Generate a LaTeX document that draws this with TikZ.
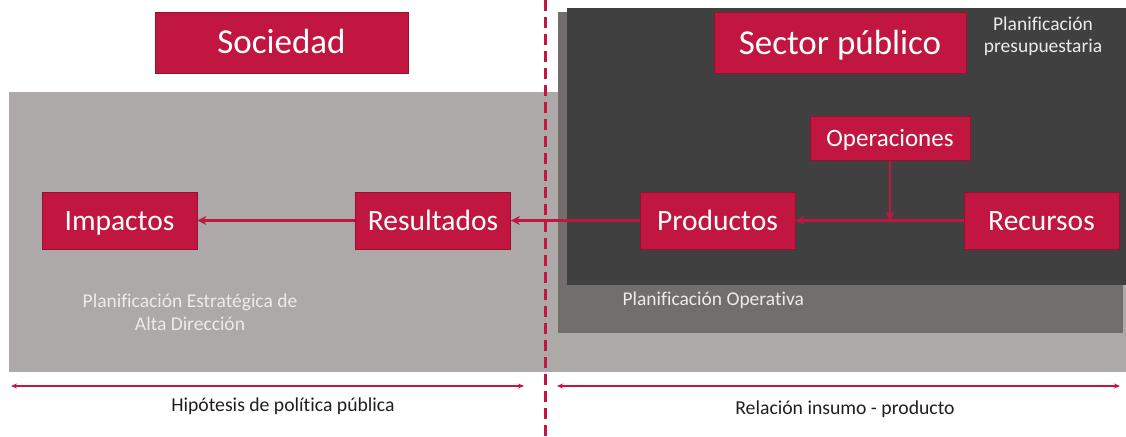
\documentclass[tikz,border=0pt]{standalone}
\usepackage{fontspec}
\setmainfont{Carlito}[Ligatures=NoCommon]
\usetikzlibrary{positioning, arrows.meta}

\definecolor{crimson}{HTML}{C0163F}
\definecolor{crimsondark}{HTML}{99102F}
\definecolor{lightgrey}{HTML}{ADA9A8}
\definecolor{midgrey}{HTML}{726E6D}
\definecolor{darkgrey}{HTML}{404040}
\definecolor{notegrey}{HTML}{EDEBEA}

\begin{document}
\begin{tikzpicture}[x=1pt, y=-1pt,
    box/.style = {draw=crimsondark, fill=crimson, text=white, line width=0.8pt,
                  minimum width=155pt, minimum height=57pt, inner sep=0pt,
                  text height=19pt, text depth=0pt,
                  font=\fontsize{29.5}{34}\selectfont},
    bigbox/.style = {box, minimum height=61pt, text height=22.5pt,
                  font=\fontsize{35}{40}\selectfont},
    flow/.style = {draw=crimson, line width=2.2pt, -{Stealth[length=9pt, width=9pt]}},
    span/.style = {draw=crimson, line width=1.2pt, {Stealth[length=6pt, width=5pt]}-{Stealth[length=6pt, width=5pt]}},
    note/.style = {text=notegrey, font=\fontsize{19.5}{26}\selectfont, align=center},
    caption/.style = {text=black!88, font=\fontsize{19.7}{24}\selectfont}]

  \useasboundingbox (0,0) rectangle (1126,436);

  % planning areas
  \fill[lightgrey] (9,92) rectangle (1126,372);
  \fill[midgrey] (558,12) rectangle (1123,333);
  \fill[darkgrey] (567,8) rectangle (1126,285);
  \draw[crimson, line width=3pt, dash pattern=on 11pt off 6pt] (545,0) -- (545,436);

  % actors
  \node[bigbox, minimum width=253pt] (sociedad) at (281.5,42.5) {Sociedad};
  \node[bigbox, minimum width=252pt] (sector) at (840,43) {Sector público};

  % chain
  \node[box] (impactos) at (119.5,220.5) {Impactos};
  \node[box] (resultados) at (433,220.5) {Resultados};
  \node[box] (productos) at (717.5,220.5) {Productos};
  \node[box] (recursos) at (1041.5,220.5) {Recursos};
  \node[box, minimum width=160pt, minimum height=44pt, text height=16pt,
        font=\fontsize{25}{28}\selectfont] (operaciones) at (890,138.5) {Operaciones};

  \draw[flow] (recursos) -- (productos);
  \draw[flow] (operaciones.south) -- (operaciones.south |- productos.east);
  \draw[flow] (productos) -- (resultados);
  \draw[flow] (resultados) -- (impactos);

  % labels of the areas
  \node[note] (presup) at (1043,36) {Planificación\\[-4pt]presupuestaria};
  \node[note] (estrat) at (190,312) {Planificación Estratégica de\\[-3pt]Alta Dirección};
  \node[note, anchor=west] (operat) at (619,300) {Planificación Operativa};

  % spans
  \coordinate (hipA) at (11,386);
  \coordinate (hipB) at (524,386);
  \coordinate (relA) at (557,386);
  \coordinate (relB) at (1120,386);
  \draw[span] (hipA) -- (hipB);
  \draw[span] (relA) -- (relB);
  \node[caption] (hipotesis) at (283,406) {Hipótesis de política pública};
  \node[caption] (relacion) at (845,409) {Relación insumo - producto};
\end{tikzpicture}
\end{document}
